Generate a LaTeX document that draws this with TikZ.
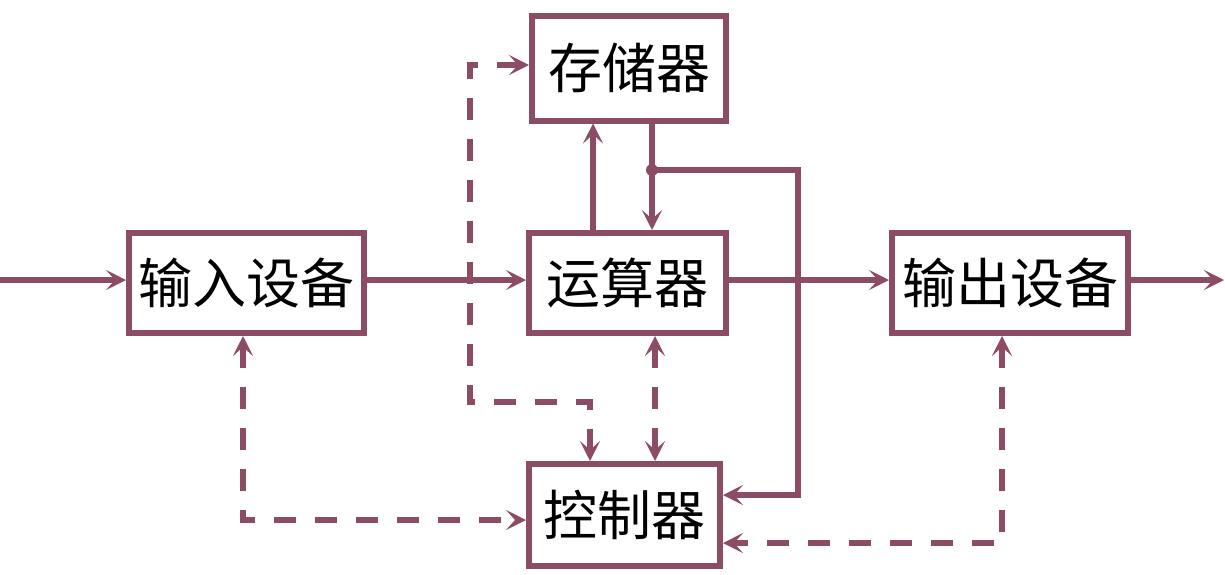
\documentclass[tikz,border=0pt]{standalone}
\usepackage{fontspec}
\newfontfamily\cjk{Noto Sans CJK SC}
\usetikzlibrary{arrows.meta}
\definecolor{mauve}{RGB}{141,76,102}
\begin{document}
\begin{tikzpicture}[x=1pt,y=-1pt,
  unit/.style={draw=mauve,line width=6pt,fill=white,inner sep=0pt,
    font=\cjk\fontsize{54}{58}\selectfont,text=black},
  sarrow/.style={draw=mauve,line width=6pt,-{Stealth[length=20pt,width=20pt,inset=9pt]}},
  darrow/.style={draw=mauve,line width=6pt,dash pattern=on 22pt off 19pt,
    {Stealth[length=20pt,width=20pt,inset=9pt]}-{Stealth[length=20pt,width=20pt,inset=9pt]}},
  jdot/.style={fill=mauve}]
\useasboundingbox (0,0) rectangle (1225,574);
\node[unit,minimum width=194pt,minimum height=105pt] (store) at (629,68) {存储器};
\node[unit,minimum width=197pt,minimum height=100pt] (alu) at (627.5,283) {运算器};
\node[unit,minimum width=235pt,minimum height=100pt] (inp) at (246.5,283) {输入设备};
\node[unit,minimum width=236pt,minimum height=100pt] (out) at (1010,283) {输出设备};
\node[unit,minimum width=191pt,minimum height=102pt] (ctrl) at (624.5,515) {控制器};
% coordinates
\coordinate (in0) at (0,280);
\coordinate (out0) at (1224,280);
\coordinate (c593) at (593,0);
\coordinate (c652) at (652,0);
\coordinate (c655) at (655,0);
\coordinate (j) at (652,170);
\coordinate (r1) at (798,170);
\coordinate (r2) at (798,495);
\coordinate (d1) at (470,402);
\coordinate (d2) at (590,402);
\coordinate (d3) at (470,65);
\coordinate (d4) at (243,520);
\coordinate (d5) at (1002,543);
% solid connectors
\draw[sarrow] (in0) -- (inp.west |- in0);
\draw[sarrow] (inp.east |- in0) -- (alu.west |- in0);
\draw[sarrow] (alu.east |- in0) -- (out.west |- in0);
\draw[sarrow] (out.east |- in0) -- (out0);
\draw[sarrow] (alu.north -| c593) -- (store.south -| c593);
\draw[sarrow] (store.south -| c652) -- (alu.north -| c652);
\draw[sarrow] (j) -- (r1) -- (r2) -- (ctrl.east |- r2);
\fill[jdot] (j) circle (6pt);
% dashed connectors
\draw[darrow] (store.west |- d3) -- (d3) -- (d1) -- (d2) -- (ctrl.north -| d2);
\draw[darrow] (alu.south -| c655) -- (ctrl.north -| c655);
\draw[darrow] (inp.south -| d4) -- (d4) -- (ctrl.west |- d4);
\draw[darrow] (out.south -| d5) -- (d5) -- (ctrl.east |- d5);
\end{tikzpicture}
\end{document}
